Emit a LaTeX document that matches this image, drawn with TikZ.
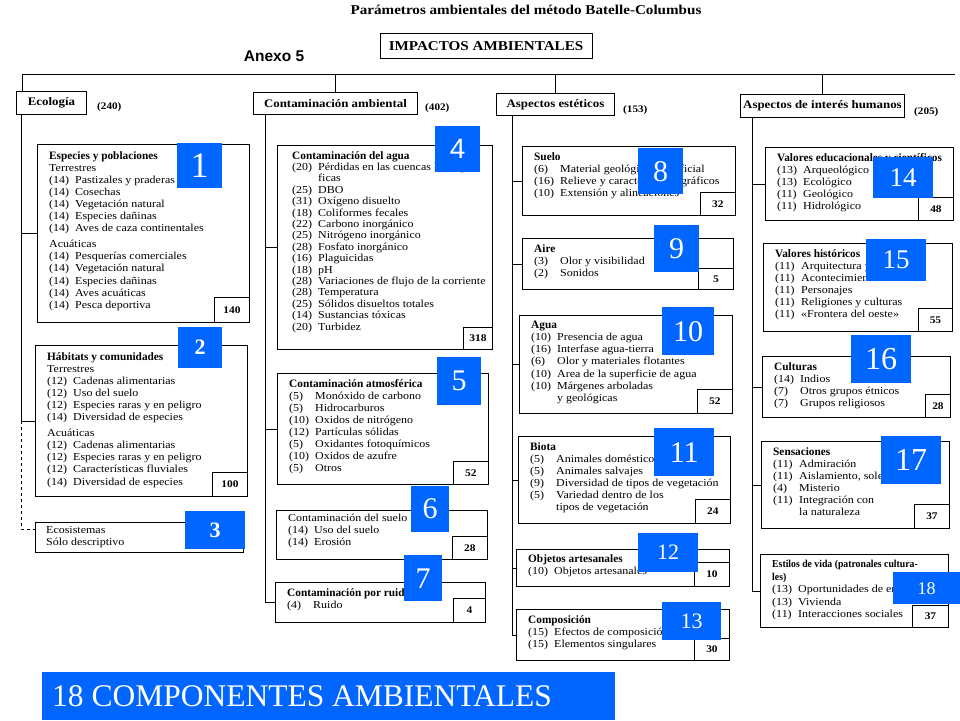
\documentclass[tikz,border=0pt]{standalone}
\usepackage{fontspec}
\setmainfont{Liberation Serif}
\newfontfamily\itemfont{Liberation Serif}[FakeStretch=1.12]
\newfontfamily\narrowfont{Liberation Serif}[FakeStretch=0.92]
\newfontfamily\anexofont{Liberation Sans}
\usetikzlibrary{positioning,calc}
\definecolor{LabelBlue}{RGB}{0,102,255}
\newcommand{\pitem}[2]{\makebox[26pt][l]{(#1)}#2}
\newcommand{\pcont}[1]{\hspace*{26pt}#1}
\newcommand{\btitle}[1]{{\rmfamily\fontsize{11.3}{12.1}\selectfont\bfseries #1}}

\tikzset{
  compbox/.style={draw, line width=0.9pt, anchor=north west, inner sep=0pt},
  itemtext/.style={anchor=north west, align=left, inner sep=0pt, font=\itemfont\fontsize{10.7}{12.1}\selectfont},
  numbox/.style={draw, line width=0.9pt, anchor=south east, inner sep=0pt, minimum width=35pt, minimum height=23pt, font=\itemfont\fontsize{10.2}{11}\selectfont\bfseries},
  hdr/.style={draw, line width=0.9pt, anchor=north west, inner sep=0pt, minimum height=23pt, font=\itemfont\fontsize{11.5}{14}\selectfont\bfseries},
  total/.style={anchor=west, inner sep=0pt, font=\itemfont\fontsize{10}{12}\selectfont\bfseries},
  tag/.style={fill=LabelBlue, text=white, anchor=north west, inner sep=0pt},
  link/.style={line width=0.9pt},
}

\begin{document}
\begin{tikzpicture}[x=1pt,y=-1pt]
  \useasboundingbox (0,0) rectangle (960,720);

  % titles
  \node[font=\itemfont\fontsize{13.5}{16}\selectfont\bfseries] (title) at (526,10) {Parámetros ambientales del método Batelle-Columbus};
  \node[draw, line width=0.9pt, minimum width=212pt, minimum height=25pt, inner sep=0pt, font=\itemfont\fontsize{13.5}{16}\selectfont\bfseries] (impact) at (486,46) {IMPACTOS AMBIENTALES};
  \node[font=\anexofont\fontsize{15.5}{18}\selectfont\bfseries] (anexo) at (274,56) {Anexo 5};

  % column headers
  \node[hdr, minimum width=70pt] (eco) at (16,91) {Ecología};
  \node[hdr, minimum width=164pt, minimum height=22pt] (cont) at (253,92) {Contaminación ambiental};
  \node[hdr, minimum width=118pt, minimum height=22pt] (est) at (496,93) {Aspectos estéticos};
  \node[hdr, minimum width=164pt] (hum) at (740,94) {Aspectos de interés humanos};
  \node[total] (ecoN) at (97,107) {(240)};
  \node[total] (contN) at (425,108) {(402)};
  \node[total] (estN) at (623,110) {(153)};
  \node[total] (humN) at (914,112) {(205)};

  % Ecologia
  \node[compbox, minimum width=212pt, minimum height=178pt] (c1) at (37,144) {};
  \node[itemtext] (t1) at ([shift={(12,7)}]c1.north west) {\btitle{Especies y poblaciones}\\
    Terrestres\\
    \pitem{14}{Pastizales y praderas}\\
    \pitem{14}{Cosechas}\\
    \pitem{14}{Vegetación natural}\\
    \pitem{14}{Especies dañinas}\\
    \pitem{14}{Aves de caza continentales}\\[4pt]
    Acuáticas\\
    \pitem{14}{Pesquerías comerciales}\\
    \pitem{14}{Vegetación natural}\\
    \pitem{14}{Especies dañinas}\\
    \pitem{14}{Aves acuáticas}\\
    \pitem{14}{Pesca deportiva}};
  \node[numbox, minimum height=25pt] (n1) at (c1.south east) {140};

  \node[compbox, minimum width=212pt, minimum height=151pt] (c2) at (35,345) {};
  \node[itemtext] (t2) at ([shift={(12,7)}]c2.north west) {\btitle{Hábitats y comunidades}\\
    Terrestres\\
    \pitem{12}{Cadenas alimentarias}\\
    \pitem{12}{Uso del suelo}\\
    \pitem{12}{Especies raras y en peligro}\\
    \pitem{14}{Diversidad de especies}\\[4pt]
    Acuáticas\\
    \pitem{12}{Cadenas alimentarias}\\
    \pitem{12}{Especies raras y en peligro}\\
    \pitem{12}{Características fluviales}\\
    \pitem{14}{Diversidad de especies}};
  \node[numbox, minimum height=24pt] (n2) at (c2.south east) {100};

  \node[compbox, minimum width=208pt, minimum height=30pt] (c3) at (35,522) {};
  \node[itemtext] (t3) at ([shift={(11,4)}]c3.north west) {Ecosistemas\\ Sólo descriptivo};

  % Contaminacion ambiental
  \node[compbox, minimum width=215pt, minimum height=204pt] (c4) at (277,145) {};
  \node[itemtext, font=\itemfont\fontsize{10.7}{11.4}\selectfont] (t4) at ([shift={(15,6)}]c4.north west) {\btitle{Contaminación del agua}\\
    \pitem{20}{Pérdidas en las cuencas hidrográ-}\\
    \pcont{ficas}\\
    \pitem{25}{DBO}\\
    \pitem{31}{Oxígeno disuelto}\\
    \pitem{18}{Coliformes fecales}\\
    \pitem{22}{Carbono inorgánico}\\
    \pitem{25}{Nitrógeno inorgánico}\\
    \pitem{28}{Fosfato inorgánico}\\
    \pitem{16}{Plaguicidas}\\
    \pitem{18}{pH}\\
    \pitem{28}{Variaciones de flujo de la corriente}\\
    \pitem{28}{Temperatura}\\
    \pitem{25}{Sólidos disueltos totales}\\
    \pitem{14}{Sustancias tóxicas}\\
    \pitem{20}{Turbidez}};
  \node[numbox, minimum width=29pt, minimum height=22pt] (n4) at (c4.south east) {318};

  \node[compbox, minimum width=211pt, minimum height=111pt] (c5) at (277,373) {};
  \node[itemtext] (t5) at ([shift={(12,6)}]c5.north west) {\btitle{Contaminación atmosférica}\\
    \pitem{5}{Monóxido de carbono}\\
    \pitem{5}{Hidrocarburos}\\
    \pitem{10}{Oxidos de nitrógeno}\\
    \pitem{12}{Partículas sólidas}\\
    \pitem{5}{Oxidantes fotoquímicos}\\
    \pitem{10}{Oxidos de azufre}\\
    \pitem{5}{Otros}};
  \node[numbox] (n5) at (c5.south east) {52};

  \node[compbox, minimum width=211pt, minimum height=49pt] (c6) at (276,510) {};
  \node[itemtext] (t6) at ([shift={(12,4)}]c6.north west) {Contaminación del suelo\\
    \pitem{14}{Uso del suelo}\\
    \pitem{14}{Erosión}};
  \node[numbox] (n6) at (c6.south east) {28};

  \node[compbox, minimum width=210pt, minimum height=40pt] (c7) at (275,582) {};
  \node[itemtext] (t7) at ([shift={(12,6)}]c7.north west) {\btitle{Contaminación por ruido}\\
    \pitem{4}{Ruido}};
  \node[numbox, minimum width=32pt, minimum height=24pt] (n7) at (c7.south east) {4};

  % Aspectos esteticos
  \node[compbox, minimum width=213pt, minimum height=69pt] (c8) at (522,146) {};
  \node[itemtext] (t8) at ([shift={(12,6)}]c8.north west) {\btitle{Suelo}\\
    \pitem{6}{Material geológico superficial}\\
    \pitem{16}{Relieve y caracteres topográficos}\\
    \pitem{10}{Extensión y alineaciones}};
  \node[numbox] (n8) at (c8.south east) {32};

  \node[compbox, minimum width=211pt, minimum height=51pt] (c9) at (522,238) {};
  \node[itemtext] (t9) at ([shift={(12,6)}]c9.north west) {\btitle{Aire}\\
    \pitem{3}{Olor y visibilidad}\\
    \pitem{2}{Sonidos}};
  \node[numbox, minimum height=21pt] (n9) at (c9.south east) {5};

  \node[compbox, minimum width=213pt, minimum height=98pt] (c10) at (519,315) {};
  \node[itemtext] (t10) at ([shift={(12,6)}]c10.north west) {\btitle{Agua}\\
    \pitem{10}{Presencia de agua}\\
    \pitem{16}{Interfase agua-tierra}\\
    \pitem{6}{Olor y materiales flotantes}\\
    \pitem{10}{Area de la superficie de agua}\\
    \pitem{10}{Márgenes arboladas}\\
    \pcont{y geológicas}};
  \node[numbox, minimum height=24pt] (n10) at (c10.south east) {52};

  \node[compbox, minimum width=212pt, minimum height=87pt] (c11) at (518,436) {};
  \node[itemtext] (t11) at ([shift={(12,6)}]c11.north west) {\btitle{Biota}\\
    \pitem{5}{Animales domésticos}\\
    \pitem{5}{Animales salvajes}\\
    \pitem{9}{Diversidad de tipos de vegetación}\\
    \pitem{5}{Variedad dentro de los}\\
    \pcont{tipos de vegetación}};
  \node[numbox, minimum height=24pt] (n11) at (c11.south east) {24};

  \node[compbox, minimum width=213pt, minimum height=37pt] (c12) at (516,549) {};
  \node[itemtext] (t12) at ([shift={(12,5)}]c12.north west) {\btitle{Objetos artesanales}\\
    \pitem{10}{Objetos artesanales}};
  \node[numbox, minimum height=24pt] (n12) at (c12.south east) {10};

  \node[compbox, minimum width=213pt, minimum height=51pt] (c13) at (516,609) {};
  \node[itemtext] (t13) at ([shift={(12,6)}]c13.north west) {\btitle{Composición}\\
    \pitem{15}{Efectos de composición}\\
    \pitem{15}{Elementos singulares}};
  \node[numbox, minimum height=22pt] (n13) at (c13.south east) {30};

  % Aspectos de interes humanos
  \node[compbox, minimum width=188pt, minimum height=73pt] (c14) at (765,147) {};
  \node[itemtext] (t14) at ([shift={(12,6)}]c14.north west) {\btitle{Valores educacionales y científicos}\\
    \pitem{13}{Arqueológico}\\
    \pitem{13}{Ecológico}\\
    \pitem{11}{Geológico}\\
    \pitem{11}{Hidrológico}};
  \node[numbox] (n14) at (c14.south east) {48};

  \node[compbox, minimum width=189pt, minimum height=88pt] (c15) at (763,243) {};
  \node[itemtext] (t15) at ([shift={(12,6)}]c15.north west) {\btitle{Valores históricos}\\
    \pitem{11}{Arquitectura y estilos}\\
    \pitem{11}{Acontecimientos}\\
    \pitem{11}{Personajes}\\
    \pitem{11}{Religiones y culturas}\\
    \pitem{11}{«Frontera del oeste»}};
  \node[numbox, minimum width=34pt] (n15) at (c15.south east) {55};

  \node[compbox, minimum width=188pt, minimum height=61pt] (c16) at (762,356) {};
  \node[itemtext] (t16) at ([shift={(12,6)}]c16.north west) {\btitle{Culturas}\\
    \pitem{14}{Indios}\\
    \pitem{7}{Otros grupos étnicos}\\
    \pitem{7}{Grupos religiosos}};
  \node[numbox, minimum width=25pt] (n16) at (c16.south east) {28};

  \node[compbox, minimum width=188pt, minimum height=87pt] (c17) at (761,441) {};
  \node[itemtext] (t17) at ([shift={(12,6)}]c17.north west) {\btitle{Sensaciones}\\
    \pitem{11}{Admiración}\\
    \pitem{11}{Aislamiento, soledad}\\
    \pitem{4}{Misterio}\\
    \pitem{11}{Integración con}\\
    \pcont{la naturaleza}};
  \node[numbox, minimum height=24pt] (n17) at (c17.south east) {37};

  \node[compbox, minimum width=188pt, minimum height=73pt] (c18) at (760,554) {};
  \node[itemtext, font=\itemfont\fontsize{10.7}{12.5}\selectfont] (t18) at ([shift={(12,6)}]c18.north west) {{\narrowfont\fontsize{10.6}{12.5}\selectfont\bfseries Estilos de vida (patronales cultura-}\\
    {\narrowfont\fontsize{10.6}{12.5}\selectfont\bfseries les)}\\
    \pitem{13}{Oportunidades de empleo}\\
    \pitem{13}{Vivienda}\\
    \pitem{11}{Interacciones sociales}};
  \node[numbox, minimum width=36pt, minimum height=22pt] (n18) at (c18.south east) {37};

  % tree lines
  \coordinate (topL) at (22,74);
  \coordinate (topR) at (955,74);
  \draw[link] (topL) -- (topR);
  \draw[link] (topL) -- (topL |- eco.north);
  \draw[link] (cont.north) -- (cont.north |- topL);
  \draw[link] (est.north) -- (est.north |- topL);
  \draw[link] (hum.north) -- (hum.north |- topL);

  \coordinate (ecoT) at (21,114);
  \draw[link] (ecoT) -- (ecoT |- c2.west);
  \draw[link] (ecoT |- c1.west) -- (c1.west);
  \draw[link] (ecoT |- c2.west) -- (c2.west);
  \draw[link, dashed] (ecoT |- c2.west) |- ([yshift=8pt]c3.west);

  \coordinate (contT) at (265,114);
  \draw[link] (contT) |- (c7.west);
  \draw[link] (contT |- c4.west) -- (c4.west);
  \draw[link] (contT |- c5.west) -- (c5.west);

  \coordinate (estT) at (512,115);
  \draw[link] (estT) |- (c13.west);
  \foreach \b in {c8,c9,c10,c11,c12}
    \draw[link] (estT |- \b.west) -- (\b.west);

  \coordinate (humT) at (752,117);
  \draw[link] (humT) |- (c18.west);
  \foreach \b in {c14,c16,c17}
    \draw[link] (humT |- \b.west) -- (\b.west);

  % blue labels
  \node[tag, minimum width=45pt, minimum height=45pt, font=\fontsize{36}{36}\selectfont] (l1) at (177,143) {1};
  \node[tag, minimum width=44pt, minimum height=41pt, font=\fontsize{22}{22}\selectfont\bfseries] (l2) at (178,327) {2};
  \node[tag, minimum width=60pt, minimum height=38pt, font=\fontsize{22}{22}\selectfont\bfseries] (l3) at (185,511) {3};
  \node[tag, minimum width=45pt, minimum height=46pt, font=\anexofont\fontsize{28}{28}\selectfont] (l4) at (435,126) {4};
  \node[tag, minimum width=44pt, minimum height=48pt, font=\fontsize{30}{30}\selectfont] (l5) at (437,357) {5};
  \node[tag, minimum width=38pt, minimum height=46pt, font=\fontsize{30}{30}\selectfont] (l6) at (411,486) {6};
  \node[tag, minimum width=38pt, minimum height=46pt, font=\fontsize{30}{30}\selectfont] (l7) at (404,555) {7};
  \node[tag, minimum width=45pt, minimum height=46pt, font=\fontsize{30}{30}\selectfont] (l8) at (638,148) {8};
  \node[tag, minimum width=45pt, minimum height=47pt, font=\fontsize{30}{30}\selectfont] (l9) at (654,225) {9};
  \node[tag, minimum width=52pt, minimum height=48pt, font=\fontsize{30}{30}\selectfont] (l10) at (662,307) {10};
  \node[tag, minimum width=60pt, minimum height=48pt, font=\fontsize{30}{30}\selectfont] (l11) at (654,428) {11};
  \node[tag, minimum width=60pt, minimum height=39pt, font=\fontsize{22}{22}\selectfont] (l12) at (638,533) {12};
  \node[tag, minimum width=59pt, minimum height=38pt, font=\fontsize{22}{22}\selectfont] (l13) at (662,602) {13};
  \node[tag, minimum width=60pt, minimum height=41pt, font=\fontsize{27}{27}\selectfont] (l14) at (873,157) {14};
  \node[tag, minimum width=60pt, minimum height=42pt, font=\fontsize{27}{27}\selectfont] (l15) at (866,239) {15};
  \node[tag, minimum width=60pt, minimum height=48pt, font=\fontsize{32}{32}\selectfont] (l16) at (851,335) {16};
  \node[tag, minimum width=60pt, minimum height=48pt, font=\fontsize{32}{32}\selectfont] (l17) at (881,436) {17};
  \node[tag, minimum width=67pt, minimum height=32pt, font=\fontsize{18}{18}\selectfont] (l18) at (893,572) {18};

  % banner
  \node[tag, minimum width=573pt, minimum height=48pt] (banner) at (42,672) {};
  \node[anchor=west, inner sep=0pt, text=white, font=\fontsize{31.5}{32}\selectfont] (bannerT) at ([xshift=10pt]banner.west) {18 COMPONENTES AMBIENTALES};
\end{tikzpicture}
\end{document}
